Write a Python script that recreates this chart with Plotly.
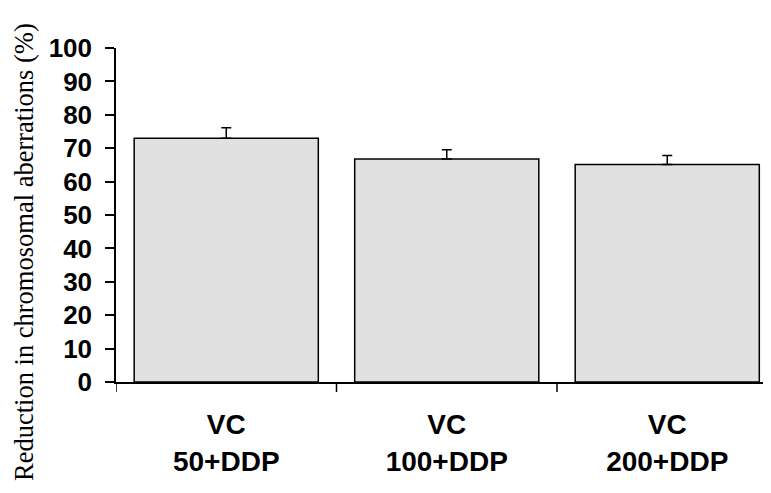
import plotly.graph_objects as go

categories = ["VC<br>50+DDP", "VC<br>100+DDP", "VC<br>200+DDP"]
values = [73.0, 66.8, 65.1]
errors_up = [3.1, 2.7, 2.7]
y_ticks = [0, 10, 20, 30, 40, 50, 60, 70, 80, 90, 100]
y_title = "Reduction in chromosomal aberrations (%)"

# the page body has an 8px margin, so the figure is offset by 8px
fig = go.Figure()
fig.add_trace(go.Bar(
    x=[0, 1, 2],
    y=values,
    marker=dict(color="#e1e1e1", line=dict(color="black", width=1.5)),
    error_y=dict(type="data", symmetric=False, array=errors_up,
                 arrayminus=[0, 0, 0], color="black", thickness=1.5, width=5),
    showlegend=False,
))

fig.update_layout(
    width=763, height=485,
    margin=dict(l=108, r=1, t=40, b=111),
    plot_bgcolor="white", paper_bgcolor="white",
    bargap=0.165,
    xaxis=dict(
        range=[-0.5, 2.466],
        tickmode="array", tickvals=[0, 1, 2], ticktext=categories,
        showgrid=False, zeroline=False,
        showline=True, linecolor="black", linewidth=1.5,
        ticks="", ticklabelstandoff=17,
        tickfont=dict(family="Liberation Sans, Arial", size=28, color="black", weight="bold"),
    ),
    yaxis=dict(
        range=[0, 100],
        tickmode="array", tickvals=y_ticks,
        showgrid=False, zeroline=False,
        showline=True, linecolor="black", linewidth=1.5,
        ticks="outside", ticklen=9, tickwidth=1.5, tickcolor="black",
        ticklabelstandoff=8,
        tickfont=dict(family="Liberation Sans, Arial", size=26, color="black", weight="bold"),
    ),
    annotations=[dict(
        text=y_title, textangle=-90,
        xref="paper", yref="paper", x=0, y=0.5,
        xanchor="center", yanchor="middle",
        xshift=-92, yshift=-37, showarrow=False, borderpad=0,
        font=dict(family="Liberation Serif, Times New Roman", size=26.5, color="black"),
    )],
)

# boundary ticks on the x axis
for b in [-0.5, 0.5, 1.5]:
    fig.add_shape(type="line", xref="x", yref="paper", x0=b, x1=b, y0=0, y1=-0.03,
                  line=dict(color="black", width=1.5))

fig.write_html("out.html")
